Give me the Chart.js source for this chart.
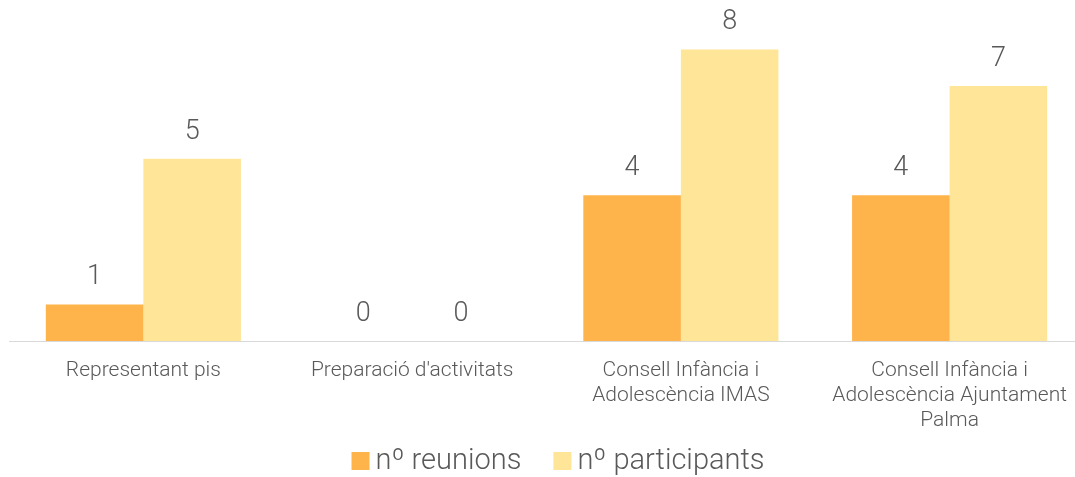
<!DOCTYPE html>
<html>
<head>
<meta charset="utf-8">
<script src="https://cdn.jsdelivr.net/npm/chart.js@4"></script>
<style>
  html, body { margin: 0; padding: 0; background: #fff; overflow: hidden; }
  #wrap { position: absolute; left: 0; top: 0; width: 1084px; height: 477px; }
</style>
</head>
<body>
<div id="wrap"><canvas id="chart"></canvas></div>
<script>
// dades
const categories = [
    ['Representant pis'],
    ["Preparació d'activitats"],
    ['Consell Infància i', 'Adolescència IMAS'],
    ['Consell Infància i', 'Adolescència Ajuntament', 'Palma']
];
const reunions = [1, 0, 4, 4];
const participants = [5, 0, 8, 7];

const textColor = '#595959';

// etiquetes de valor damunt de cada barra
const valueLabels = {
    id: 'valueLabels',
    afterDatasetsDraw(chart) {
        const ctx = chart.ctx;
        ctx.save();
        ctx.font = '300 27px Roboto';
        ctx.fillStyle = textColor;
        ctx.textAlign = 'center';
        ctx.textBaseline = 'middle';
        chart.data.datasets.forEach((ds, i) => {
            chart.getDatasetMeta(i).data.forEach((bar, j) => {
                ctx.fillText(ds.data[j], bar.x, bar.y - 27);
            });
        });
        ctx.restore();
    }
};

// llegenda a baix, amb la caixa més a prop del text que la de Chart.js
const bottomLegend = {
    id: 'bottomLegend',
    afterDraw(chart) {
        const ctx = chart.ctx;
        const box = 18, gap = 6, spacing = 32, cy = 461, cx = 558;
        ctx.save();
        ctx.font = '300 29px Roboto';
        ctx.textBaseline = 'middle';
        const items = chart.data.datasets.map(ds => ({
            text: ds.label, color: ds.backgroundColor, w: ctx.measureText(ds.label).width
        }));
        const total = items.reduce((s, it) => s + box + gap + it.w, 0) + spacing * (items.length - 1);
        let x = cx - total / 2;
        items.forEach(it => {
            ctx.fillStyle = it.color;
            ctx.fillRect(x, cy - box / 2, box, box);
            ctx.fillStyle = textColor;
            ctx.fillText(it.text, x + box + gap, cy + 1);
            x += box + gap + it.w + spacing;
        });
        ctx.restore();
    }
};

new Chart(document.getElementById('chart'), {
    type: 'bar',
    data: {
        labels: categories,
        datasets: [
            { label: 'nº reunions', data: reunions, backgroundColor: '#FFB34B' },
            { label: 'nº participants', data: participants, backgroundColor: '#FFE597' }
        ]
    },
    options: {
        responsive: true,
        maintainAspectRatio: false,
        animation: false,
        layout: { padding: { left: 9, top: 13, right: 0, bottom: 35 } },
        datasets: { bar: { categoryPercentage: 0.726, barPercentage: 1.0 } },
        scales: {
            x: {
                grid: { display: false },
                border: { display: true, color: '#D9D9D9', width: 1 },
                ticks: {
                    color: textColor,
                    font: { family: 'Roboto', size: 21, weight: '300', lineHeight: 1.19 },
                    maxRotation: 0,
                    autoSkip: false,
                    padding: 9
                }
            },
            y: {
                display: false,
                min: 0,
                max: 9
            }
        },
        plugins: {
            legend: { display: false },
            tooltip: { enabled: false }
        }
    },
    plugins: [valueLabels, bottomLegend]
});
</script>
</body>
</html>
